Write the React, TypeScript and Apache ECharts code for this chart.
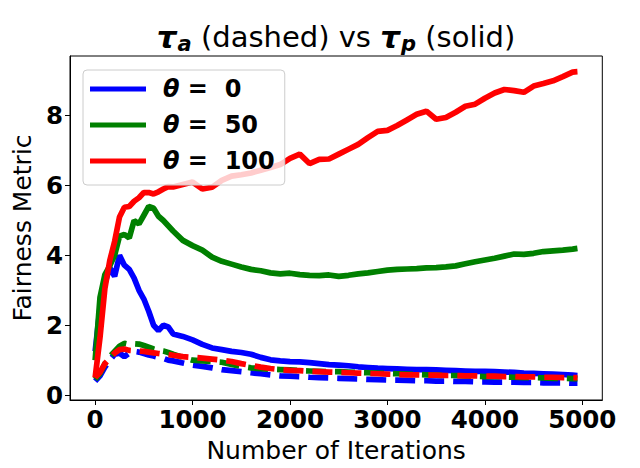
import React, { useEffect, useRef } from "react";
import * as echarts from "echarts";

const iterations = [
  0, 50, 100, 150, 200, 250, 300, 350, 400, 450, 500, 550, 600, 650, 700, 750, 800,
  900, 1000, 1100, 1200, 1300, 1400, 1500, 1600, 1700, 1800,
  1900, 2000, 2100, 2200, 2300, 2400, 2500, 2600, 2700, 2800,
  2900, 3000, 3100, 3200, 3300, 3400, 3500, 3600, 3700, 3800,
  3900, 4000, 4100, 4200, 4300, 4400, 4500, 4600, 4700, 4800,
  4900, 4950,
];

// tau_p (solid)
const tauP0 = [
  1.25, 2.5, 3.2, 3.65, 3.4, 4.0, 3.72, 3.6, 3.35, 3.0, 2.75, 2.4, 2.0, 1.85, 2.0, 1.95, 1.75,
  1.68, 1.58, 1.45, 1.35, 1.3, 1.25, 1.22, 1.17, 1.08, 1.01,
  0.98, 0.96, 0.95, 0.93, 0.9, 0.87, 0.86, 0.84, 0.81, 0.79,
  0.77, 0.76, 0.75, 0.74, 0.73, 0.73, 0.72, 0.71, 0.7, 0.69,
  0.68, 0.68, 0.67, 0.66, 0.65, 0.63, 0.62, 0.61, 0.6, 0.59,
  0.57, 0.56,
];
const tauP50 = [
  1.0, 2.8, 3.45, 3.7, 4.0, 4.55, 4.6, 4.5, 5.0, 4.9, 5.15, 5.4, 5.35, 5.12, 5.0, 4.85, 4.7,
  4.43, 4.28, 4.15, 3.95, 3.83, 3.75, 3.67, 3.6, 3.56, 3.5,
  3.47, 3.49, 3.45, 3.43, 3.42, 3.44, 3.4, 3.43, 3.47, 3.5,
  3.54, 3.58, 3.6, 3.61, 3.62, 3.64, 3.65, 3.67, 3.7, 3.76,
  3.82, 3.87, 3.92, 3.98, 4.04, 4.03, 4.06, 4.11, 4.13, 4.15,
  4.18, 4.2,
];
const tauP100 = [
  0.5, 1.65, 3.05, 3.85, 4.4, 5.1, 5.38, 5.4, 5.55, 5.65, 5.8, 5.8, 5.76, 5.82, 5.9, 5.97, 5.96,
  6.03, 6.1, 5.9, 5.95, 6.15, 6.27, 6.31, 6.36, 6.44, 6.52,
  6.6, 6.78, 6.9, 6.63, 6.75, 6.76, 6.9, 7.04, 7.18, 7.37,
  7.55, 7.58, 7.72, 7.88, 8.04, 8.13, 7.9, 7.95, 8.1, 8.27,
  8.33, 8.5, 8.65, 8.75, 8.72, 8.67, 8.85, 8.92, 9.0, 9.12,
  9.25, 9.26,
];

// tau_a (dashed)
const tauA0 = [
  0.4, 0.55, 0.8, 1.0, 1.17, 1.2, 1.1, 1.2, 1.25, 1.23, 1.19, 1.15, 1.12, 1.08, 1.05, 1.0, 0.98,
  0.92, 0.86, 0.82, 0.78, 0.73, 0.7, 0.67, 0.64, 0.61, 0.58,
  0.55, 0.54, 0.53, 0.51, 0.5, 0.49, 0.48, 0.47, 0.46, 0.45,
  0.44, 0.43, 0.43, 0.42, 0.41, 0.41, 0.4, 0.4, 0.39, 0.39,
  0.38, 0.38, 0.37, 0.37, 0.37, 0.36, 0.36, 0.35, 0.35, 0.35,
  0.34, 0.34,
];
const tauA50 = [
  0.45, 0.62, 0.9, 1.1, 1.25, 1.4, 1.48, 1.45, 1.47, 1.46, 1.42, 1.37, 1.32, 1.28, 1.26, 1.22, 1.17,
  1.08, 1.0, 0.98, 0.96, 0.94, 0.88, 0.82, 0.78, 0.76, 0.74,
  0.73, 0.72, 0.7, 0.69, 0.68, 0.67, 0.67, 0.66, 0.65, 0.64,
  0.63, 0.62, 0.61, 0.6, 0.59, 0.58, 0.57, 0.56, 0.56, 0.55,
  0.54, 0.53, 0.53, 0.52, 0.51, 0.5, 0.5, 0.49, 0.48, 0.48,
  0.47, 0.47,
];
const tauA100 = [
  0.5, 0.65, 0.9, 1.05, 1.2, 1.3, 1.32, 1.28, 1.27, 1.26, 1.25, 1.23, 1.21, 1.19, 1.17, 1.16, 1.14,
  1.1, 1.08, 1.06, 1.03, 1.0, 0.96, 0.9, 0.85, 0.8, 0.76,
  0.73, 0.71, 0.7, 0.68, 0.67, 0.66, 0.65, 0.64, 0.63, 0.62,
  0.61, 0.6, 0.59, 0.58, 0.58, 0.57, 0.57, 0.56, 0.56, 0.55,
  0.55, 0.54, 0.54, 0.53, 0.53, 0.52, 0.52, 0.51, 0.51, 0.5,
  0.5, 0.5,
];

const thetas = ["0", "50", "100"];
const colors = ["#0000ff", "#008000", "#ff0000"];
const xTicks = [0, 1000, 2000, 3000, 4000, 5000];
const yTicks = [0, 2, 4, 6, 8];

const FONT = "DejaVu Sans";

export default function App() {
  const ref = useRef<HTMLDivElement>(null);
  useEffect(() => {
    const chart = echarts.init(ref.current!, null, { renderer: "svg" });
    const solid = [tauP0, tauP50, tauP100];
    const dashed = [tauA0, tauA50, tauA100];
    const series: any[] = [];
    thetas.forEach((t, k) => {
      series.push({
        name: `θ = ${t}`,
        type: "line",
        data: iterations.map((x, i) => [x, solid[k][i]]),
        showSymbol: false,
        symbol: "none",
        color: colors[k],
        lineStyle: { width: 5.7, color: colors[k], type: "solid" },
      });
      series.push({
        name: `τa θ = ${t}`,
        type: "line",
        data: iterations.map((x, i) => [x, dashed[k][i]]),
        showSymbol: false,
        symbol: "none",
        color: colors[k],
        lineStyle: { width: 5.7, color: colors[k], type: [20, 9] },
      });
    });
    const option: any = {
      animation: false,
      backgroundColor: "#ffffff",
      grid: {
        left: 70,
        top: 56,
        right: 37.7,
        bottom: 62.7,
        show: true,
        borderColor: "#000",
        borderWidth: 1,
        backgroundColor: "transparent",
      },
      xAxis: {
        type: "value",
        min: -258,
        max: 5205,
        name: "Number of Iterations",
        nameLocation: "middle",
        nameGap: 38,
        nameTextStyle: { fontFamily: FONT, fontSize: 25, color: "#000" },
        axisLine: { show: true, onZero: false, lineStyle: { color: "#000", width: 1 } },
        axisTick: { show: true, length: 5, lineStyle: { color: "#000" }, customValues: xTicks },
        axisLabel: {
          customValues: xTicks,
          formatter: (v: number) => String(v),
          margin: 7,
          fontFamily: FONT,
          fontSize: 24.5,
          fontWeight: "bold",
          color: "#000",
        },
        splitLine: { show: false },
      },
      yAxis: {
        type: "value",
        min: -0.141,
        max: 9.71,
        name: "Fairness Metric",
        nameLocation: "middle",
        nameGap: 35,
        nameTextStyle: { fontFamily: FONT, fontSize: 25, color: "#000" },
        axisLine: { show: true, onZero: false, lineStyle: { color: "#000", width: 1 } },
        axisTick: { show: true, length: 5, lineStyle: { color: "#000" }, customValues: yTicks },
        axisLabel: {
          customValues: yTicks,
          formatter: (v: number) => String(v),
          margin: 7,
          fontFamily: FONT,
          fontSize: 24.5,
          fontWeight: "bold",
          color: "#000",
        },
        splitLine: { show: false },
      },
      legend: {
        data: thetas.map((t) => `θ = ${t}`),
        orient: "vertical",
        left: 83,
        top: 70,
        icon: "rect",
        itemWidth: 56,
        itemHeight: 5,
        itemGap: 12,
        padding: [7, 10, 12, 7],
        backgroundColor: "rgba(255,255,255,0.8)",
        borderColor: "#cccccc",
        borderWidth: 1,
        borderRadius: 4,
        formatter: (name: string) => `{th|θ}{b| =  ${name.split("= ")[1]}}`,
        textStyle: {
          fontFamily: FONT,
          fontSize: 24,
          fontWeight: "bold",
          color: "#000",
          rich: {
            th: { fontFamily: FONT, fontSize: 24, fontWeight: "bold", fontStyle: "italic", padding: [0, 0, 0, 12] },
            b: { fontFamily: FONT, fontSize: 24, fontWeight: "bold" },
          },
        },
      },
      graphic: [
        {
          type: "text",
          x: 336,
          y: 37,
          style: {
            text: "{t|τ}{s|a}{n| (dashed) vs }{t|τ}{s|p}{n| (solid)}",
            align: "center",
            verticalAlign: "middle",
            fill: "#000",
            rich: {
              t: { fontFamily: FONT, fontSize: 31, fontWeight: "bold", fontStyle: "italic" },
              s: { fontFamily: FONT, fontSize: 21, fontWeight: "bold", fontStyle: "italic", padding: [13, 0, 0, 1] },
              n: { fontFamily: FONT, fontSize: 29 },
            },
          },
        },
      ],
      series,
    };
    chart.setOption(option);
    return () => chart.dispose();
  }, []);
  return (
    <div
      ref={ref}
      style={{ position: "absolute", left: 0, top: 0, width: 640, height: 468, background: "#fff" }}
    />
  );
}
